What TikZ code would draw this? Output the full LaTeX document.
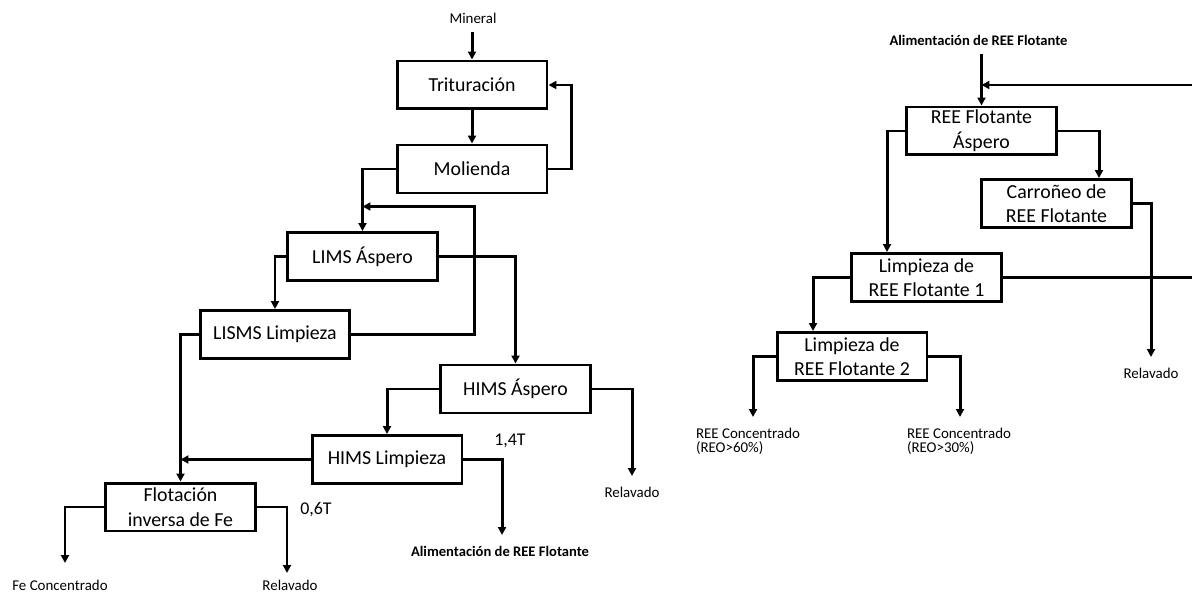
\documentclass[tikz,border=0pt]{standalone}
\usepackage{fontspec}
\setmainfont{Carlito}
\usetikzlibrary{arrows.meta,positioning}

\begin{document}
\begin{tikzpicture}[x=0.02cm, y=-0.02cm,
  unit/.style={draw, line width=1.7pt, minimum width=3cm, minimum height=0.96cm,
    inner sep=1pt, align=center, font=\fontsize{11.3}{14}\selectfont},
  flow/.style={line width=1.7pt, -{Triangle[length=4.5pt,width=4.5pt]}},
  link/.style={line width=1.7pt},
  lbl/.style={inner sep=0pt, outer sep=5pt, font=\fontsize{8.5}{7.8}\selectfont},
  feed/.style={lbl, font=\fontsize{8.3}{9}\selectfont\bfseries},
  ton/.style={inner sep=0pt, font=\fontsize{10.2}{12}\selectfont}]
  \useasboundingbox (0,0) rectangle (1192,594);
  % ---- left circuit: trituracion, LIMS / HIMS, flotacion de Fe ----
  \node[lbl] (mineral) at (473,18) {Mineral};
  \node[unit] (tri) at (472,85) {Trituración};
  \node[unit] (mol) at (472,169) {Molienda};
  \node[unit] (limsA) at (362.5,256.5) {LIMS Áspero};
  \node[unit] (lismsL) at (275,334.5) {LISMS Limpieza};
  \node[unit] (himsA) at (515.5,389) {HIMS Áspero};
  \node[unit] (himsL) at (387,459.5) {HIMS Limpieza};
  \node[unit] (flot) at (180.5,507) {Flotación\\inversa de Fe};
  \draw[flow] (mineral.south -| tri.north) -- (tri.north);
  \draw[flow] (tri.south) -- (mol.north);
  \draw[flow] (mol.east) -- ++(23,0) |- (tri.east);
  \draw[flow] (mol.west) -| (limsA.north);
  \draw[flow] (limsA.west) -| (lismsL.north);
  \draw[flow] (limsA.east) -| (himsA.north);
  \draw[flow] (lismsL.east) -- ++(123,0) |- ([yshift=0.49cm]limsA.north);
  \draw[flow] (himsA.west) -| (himsL.north);
  \draw[flow] (himsL.west) -- (flot.north |- himsL.west);
  \draw[flow] (lismsL.west) -| (flot.north);
  % salidas
  \coordinate (relavH) at (632,476);
  \coordinate (reeOut) at (502,535);
  \coordinate (feC) at (65,563);
  \coordinate (relavF) at (287,573);
  \draw[flow] (himsA.east) -| (relavH);
  \draw[flow] (himsL.east) -| (reeOut);
  \draw[flow] (flot.west) -| (feC);
  \draw[flow] (flot.east) -| (relavF);
  \node[lbl] at (632,492) {Relavado};
  \node[feed] at (500,551) {Alimentación de REE Flotante};
  \node[lbl] at (60,585) {Fe Concentrado};
  \node[lbl] at (290,585.5) {Relavado};
  \node[ton] at (510,441) {1,4T};
  \node[ton] at (316,510) {0,6T};
  % ---- right circuit: flotacion de REE ----
  \node[feed] (reeIn) at (978.5,40) {Alimentación de REE Flotante};
  \node[unit] (rA) at (981.5,131) {REE Flotante\\Áspero};
  \node[unit] (carr) at (1056.5,203.5) {Carroñeo de\\REE Flotante};
  \node[unit] (l1) at (926.5,277.5) {Limpieza de\\REE Flotante 1};
  \node[unit] (l2) at (852,356.5) {Limpieza de\\REE Flotante 2};
  \coordinate (backIn) at (1192,85);
  \coordinate (backOut) at (1192,277.5);
  \draw[flow] (reeIn.south -| rA.north) -- (rA.north);
  \draw[flow] (backIn) -- (rA.north |- backIn);
  \draw[flow] (rA.west) -| ([xshift=-0.79cm]l1.north);
  \draw[flow] (rA.east) -| ([xshift=0.85cm]carr.north);
  \draw[flow] (l1.west) -| ([xshift=-0.78cm]l2.north);
  \draw[link] (l1.east) -- (backOut);
  % salidas
  \coordinate (relavC) at (1151,357);
  \coordinate (c60) at (753,417);
  \coordinate (c30) at (960,417);
  \draw[flow] (carr.east) -| (relavC);
  \draw[flow] (l2.west) -| (c60);
  \draw[flow] (l2.east) -| (c30);
  \node[lbl] at (1151,373) {Relavado};
  \node[lbl, outer sep=0pt, anchor=north west, align=left] at (696,428) {REE Concentrado\\(REO>60\%)};
  \node[lbl, outer sep=0pt, anchor=north west, align=left] at (907,428) {REE Concentrado\\(REO>30\%)};
\end{tikzpicture}
\end{document}
